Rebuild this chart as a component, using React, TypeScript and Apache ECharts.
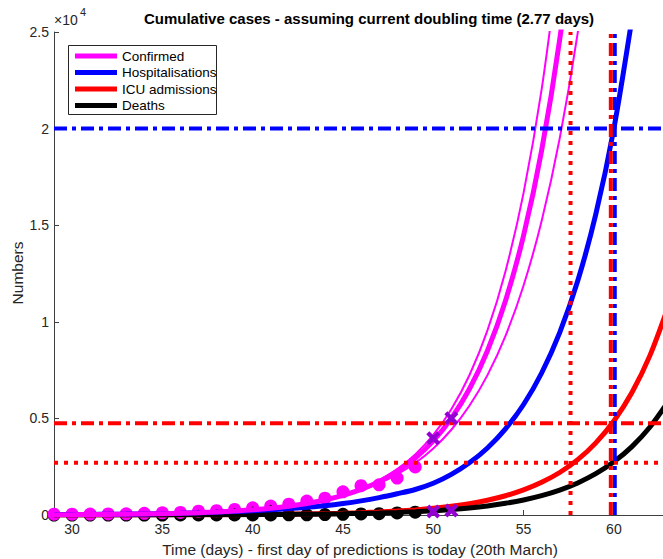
import React, { useEffect, useRef } from "react";
import * as echarts from "echarts";

const titleText = "Cumulative cases - assuming current doubling time (2.77 days)";
const xName = "Time (days) - first day of predictions is today (20th March)";
const yName = "Numbers";

const xTicks = [30, 35, 40, 45, 50, 55, 60];
const yTicks = [0, 5000, 10000, 15000, 20000, 25000];

// observed days 29..49
const obsStart = 29;
const confirmedObs = [40, 45, 50, 55, 60, 85, 115, 130, 200, 225, 290, 375, 460, 560, 720, 870, 1200, 1520, 1560, 1910, 2490];
const deathsObs = [0, 0, 0, 0, 0, 0, 0, 1, 1, 2, 3, 5, 6, 8, 10, 21, 35, 55, 71, 104, 144];
const dotDays = [36, 37, 38, 39, 40, 41];

// model curves, starting at day 29
const curveStart = 29;
const confirmedFit = [15, 19, 25, 32, 42, 55, 71, 93, 121, 158, 207, 269, 351, 458, 597, 779, 1016, 1325, 1728, 2254, 2940, 3834, 5000, 6521, 8505, 11092, 14466, 18866, 24605, 32090];
const confirmedUpper = [12, 16, 21, 28, 37, 48, 64, 84, 111, 147, 194, 256, 338, 447, 590, 780, 1030, 1361, 1798, 2375, 3138, 4145, 5476, 7233, 9555, 12622, 16674, 22026, 29097];
const confirmedLower = [19, 24, 31, 40, 51, 66, 84, 108, 138, 177, 226, 290, 371, 475, 609, 780, 999, 1280, 1639, 2100, 2690, 3445, 4413, 5653, 7241, 9275, 11880, 15218, 19493, 24968, 31982];
const hospitalisations = [20, 25, 30, 38, 47, 58, 72, 90, 115, 145, 180, 220, 270, 330, 400, 480, 590, 730, 900, 1100, 1320, 1640, 2100, 2700, 3470, 4460, 5720, 7350, 9440, 12120, 15570, 20000, 25690];
const icuAdmissions = [1, 2, 2, 3, 4, 5, 6, 8, 11, 14, 19, 24, 32, 42, 54, 71, 92, 120, 156, 203, 265, 345, 450, 586, 764, 995, 1296, 1689, 2200, 2867, 3735, 4867, 6341, 8262, 10765];
const deathsFit = [1, 1, 2, 2, 3, 4, 5, 7, 8, 11, 14, 18, 23, 29, 38, 49, 63, 81, 104, 134, 172, 221, 285, 366, 471, 606, 780, 1003, 1291, 1661, 2137, 2750, 3538, 4553, 5858];

// predictions (crosses)
const predDays = [50, 51];
const predConfirmed = [3970, 5005];
const predDeaths = [180, 230];

// thresholds
const hospCapacity = 20000;
const icuCapacity = 4750;
const icuCurrent = 2700;
const icuCurrentDay = 57.6;
const icuCapacityDay = 59.83;
const hospCapacityDay = 60.05;

const X_MIN = 29;
const X_MAX = 62.72;
const Y_MAX = 25000;

const legendItems = [
  { name: "Confirmed", color: "#ff00ff" },
  { name: "Hospitalisations", color: "#0000ff" },
  { name: "ICU admissions", color: "#ff0000" },
  { name: "Deaths", color: "#000000" },
];

const FONT = "'Liberation Sans', Arial, Helvetica, sans-serif";
const TXT = "#262626";
const DASHDOT = [13, 5, 4, 5];
const DOTTED = [4, 6];
const CROSS = "path://M0,2.6 L2.6,0 L6,3.4 L9.4,0 L12,2.6 L8.6,6 L12,9.4 L9.4,12 L6,8.6 L2.6,12 L0,9.4 L3.4,6 Z";

function zip(start: number, vals: number[]) {
  return vals.map((v, i) => [start + i, v]);
}

function curve(vals: number[], color: string, width: number) {
  return {
    type: "line",
    data: zip(curveStart, vals),
    showSymbol: false,
    smooth: 0.3,
    lineStyle: { color, width },
    clip: true,
    silent: true,
  };
}

function refLine(data: number[][], color: string, dash: number[], width: number) {
  return {
    type: "line",
    data,
    showSymbol: false,
    lineStyle: { color, width, type: dash, cap: "butt" },
    clip: true,
    silent: true,
  };
}

function dots(data: number[][], symbol: string, size: number, color: string, z = 2) {
  return {
    type: "scatter",
    data,
    symbol,
    symbolSize: size,
    itemStyle: { color, opacity: 1 },
    z,
    silent: true,
  };
}

export default function App() {
  const ref = useRef<HTMLDivElement>(null);
  useEffect(() => {
    if (!ref.current) return;
    const chart = echarts.init(ref.current, undefined, { renderer: "svg" });

    const graphic: any[] = [
      { type: "text", x: 369, y: 18, style: { text: titleText, font: `bold 15px ${FONT}`, fill: "#000", align: "center", verticalAlign: "middle" } },
      { type: "text", x: 54, y: 20, style: { text: "×10", font: `14px ${FONT}`, fill: TXT, align: "left", verticalAlign: "middle" } },
      { type: "text", x: 80, y: 12, style: { text: "4", font: `11px ${FONT}`, fill: TXT, align: "left", verticalAlign: "middle" } },
      { type: "text", x: 17, y: 273, rotation: Math.PI / 2, style: { text: yName, font: `15.5px ${FONT}`, fill: TXT, align: "center", verticalAlign: "middle" } },
      { type: "text", x: 360, y: 549, style: { text: xName, font: `15.5px ${FONT}`, fill: TXT, align: "center", verticalAlign: "middle" } },
      { type: "rect", shape: { x: 68.5, y: 45.5, width: 148, height: 69 }, style: { fill: "#fff", stroke: TXT, lineWidth: 1 }, z: 100 },
    ];
    legendItems.forEach((it, i) => {
      const y = 56 + i * 16.5;
      graphic.push({ type: "line", shape: { x1: 75, y1: y, x2: 117, y2: y }, style: { stroke: it.color, lineWidth: 5 }, z: 101 });
      graphic.push({ type: "text", x: 122, y, style: { text: it.name, font: `13.5px ${FONT}`, fill: "#000", align: "left", verticalAlign: "middle" }, z: 101 });
    });

    const series: any[] = [
      curve(icuAdmissions, "#ff0000", 5),
      curve(deathsFit, "#000000", 5),
      curve(hospitalisations, "#0000ff", 5),
      curve(confirmedUpper, "#ff00ff", 2),
      curve(confirmedLower, "#ff00ff", 2),
      curve(confirmedFit, "#ff00ff", 5),
      dots(zip(obsStart, deathsObs), "circle", 13, "#000000"),
      dots(zip(obsStart, confirmedObs), "circle", 13, "#ff00ff"),
      dots(dotDays.map((d) => [d, confirmedObs[d - obsStart]]), "circle", 2.5, "#000000"),
      refLine([[X_MIN, hospCapacity], [X_MAX, hospCapacity]], "#0000ff", DASHDOT, 4),
      refLine([[X_MIN, icuCapacity], [X_MAX, icuCapacity]], "#ff0000", DASHDOT, 4),
      refLine([[X_MIN, icuCurrent], [X_MAX, icuCurrent]], "#ff0000", DOTTED, 4),
      refLine([[icuCurrentDay, 0], [icuCurrentDay, Y_MAX]], "#ff0000", DOTTED, 4),
      refLine([[hospCapacityDay, 0], [hospCapacityDay, Y_MAX]], "#0000ff", DASHDOT, 4),
      refLine([[icuCapacityDay, 0], [icuCapacityDay, Y_MAX]], "#ff0000", DASHDOT, 4),
      dots(predDays.map((d, i) => [d, predConfirmed[i]]), CROSS, 14, "#9400d3", 5),
      dots(predDays.map((d, i) => [d, predDeaths[i]]), CROSS, 14, "#9400d3", 5),
    ];

    chart.setOption({
      animation: false,
      backgroundColor: "#ffffff",
      grid: { left: 54, right: 0, top: 32, bottom: 44, containLabel: false, outerBoundsMode: "none" },
      xAxis: {
        type: "value",
        min: X_MIN,
        max: X_MAX,
        splitLine: { show: false },
        axisLine: { show: true, onZero: false, lineStyle: { color: "#404040", width: 1 } },
        axisTick: { show: true, inside: true, length: 5, customValues: xTicks, lineStyle: { color: "#404040" } },
        axisLabel: { customValues: xTicks, color: TXT, fontSize: 14, fontFamily: FONT, margin: 7, showMinLabel: true, showMaxLabel: true },
      },
      yAxis: {
        type: "value",
        min: 0,
        max: Y_MAX,
        interval: 5000,
        splitLine: { show: false },
        axisLine: { show: true, lineStyle: { color: "#404040", width: 1 } },
        axisTick: { show: true, inside: true, length: 5, customValues: yTicks, lineStyle: { color: "#404040" } },
        axisLabel: {
          customValues: yTicks,
          color: TXT,
          fontSize: 14,
          fontFamily: FONT,
          margin: 5,
          formatter: (v: number) => String(v / 10000),
        },
      },
      graphic,
      series,
    });
    return () => chart.dispose();
  }, []);
  return <div ref={ref} style={{ position: "fixed", left: 0, top: 0, width: 663, height: 559 }} />;
}
